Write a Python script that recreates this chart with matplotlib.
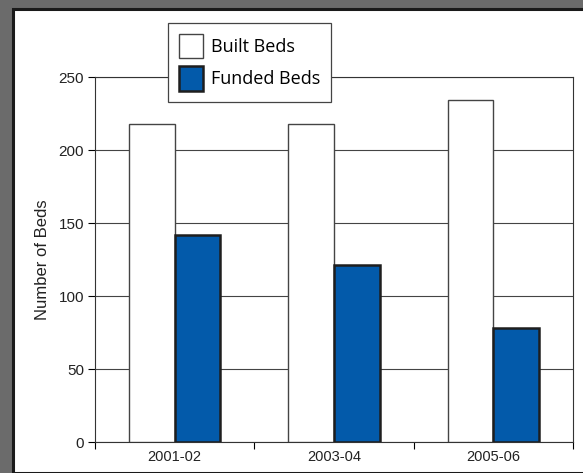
import numpy as np
import matplotlib.pyplot as plt
from matplotlib.patches import Rectangle

# 데이터
years = ['2001-02', '2003-04', '2005-06']
built = [218, 218, 234]
funded = [142, 121, 78]
yticks = [0, 50, 100, 150, 200, 250]

W, H = 583, 473
fig = plt.figure(figsize=(W/100, H/100), dpi=100)
fig.patch.set_facecolor('#6b6b6b')

# 흰 패널 + 검은 테두리
fig.patches.append(Rectangle((13/W, 0), 1, (H-9)/H, transform=fig.transFigure,
                             facecolor='white', edgecolor='#1a1a1a', linewidth=2.2, zorder=-5))

# 축 위치 (픽셀 기준)
L, R, T, B = 95, 573, 77, 442
ax = fig.add_axes([L/W, (H-B)/H, (R-L)/W, (B-T)/H])
ax.set_zorder(2)
x = np.arange(len(years))
bw = 0.2875
ax.bar(x - bw/2, built, bw, color='white', edgecolor='#444444', linewidth=1.0,
       label='Built Beds', zorder=3)
ax.bar(x + bw/2, funded, bw, color='#035aaa', edgecolor='#1e1e1e', linewidth=1.8,
       label='Funded Beds', zorder=3)

ax.set_xlim(-0.5, 2.5)
ax.set_ylim(0, 250)
ax.set_yticks(yticks)
ax.set_yticklabels([str(v) for v in yticks], fontsize=11, family='Liberation Sans', color='#222222')
ax.set_xticks(x)
ax.set_xticklabels(years, fontsize=10.5, family='Liberation Sans', color='#222222')
ax.tick_params(axis='x', length=0, pad=6)
ax.set_xticks([-0.5, 0.5, 1.5, 2.5], minor=True)
ax.tick_params(axis='x', which='minor', length=5, direction='out', width=0.8)
ax.tick_params(axis='y', length=5, direction='out', width=0.8, pad=3)
ax.grid(axis='y', color='#444444', linewidth=0.8, zorder=1)
for s in ax.spines.values():
    s.set_linewidth(0.8)
    s.set_color('#333333')
ax.set_ylabel('Number of Beds', fontsize=12, family='Liberation Sans', color='#222222', labelpad=6)

leg = ax.legend(loc='upper left', bbox_to_anchor=((168-L)/(R-L), 1 + (T-23)/(B-T)),
                borderaxespad=0, frameon=True, fancybox=False, edgecolor='#444444', framealpha=1,
                prop={'family': 'Open Sans', 'size': 13}, handlelength=1.33, handleheight=1.7,
                handletextpad=0.45, labelspacing=0.45, borderpad=0.6)
leg.get_frame().set_linewidth(0.9)
leg.set_zorder(10)

fig.savefig('out.png', dpi=100, facecolor=fig.get_facecolor())
